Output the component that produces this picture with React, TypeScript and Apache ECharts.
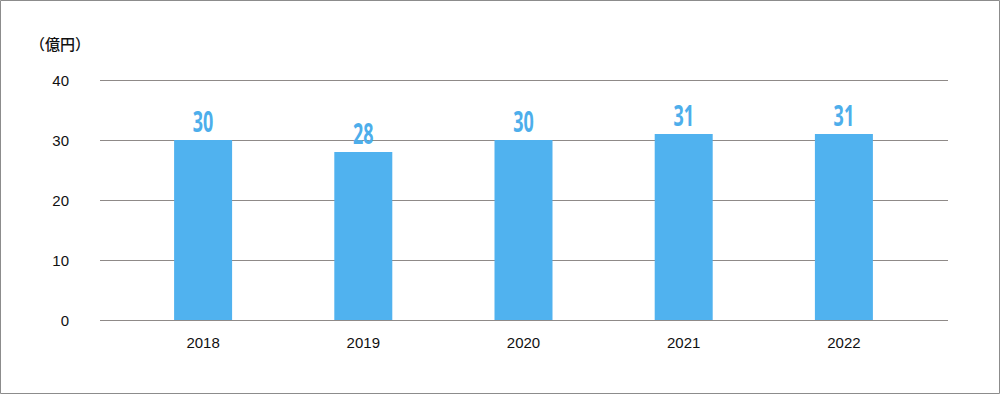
import React, { useEffect, useRef } from "react";
import * as echarts from "echarts";

const years = ["2018", "2019", "2020", "2021", "2022"];
const values = [30, 28, 30, 31, 31];
const unitLabel = "（億円）";
const yMin = 0;
const yMax = 40;
const yStep = 10;

export default function App() {
  const ref = useRef<HTMLDivElement>(null);
  useEffect(() => {
    document.body.style.margin = "0";
    const chart = echarts.init(ref.current!, null, { renderer: "svg" });
    const blue = "#50B2EF";
    const labelBlue = "#4DAEEB";
    chart.setOption({
      animation: false,
      backgroundColor: "#fff",
      graphic: [
        {
          type: "rect",
          shape: { x: 0.5, y: 0.5, width: 999, height: 393 },
          style: { fill: "none", stroke: "#8c8c8c", lineWidth: 1 },
          silent: true,
        },
        {
          type: "text",
          left: 30,
          top: 36,
          style: {
            text: unitLabel,
            fontSize: 15,
            fontWeight: 500,
            fill: "#111",
            fontFamily: "'Noto Sans CJK JP', sans-serif",
          },
        },
      ],
      grid: [
        { left: 100, right: 52, top: 80, height: 240 },
        { left: 123, right: 76, top: 80, height: 240 },
      ],
      xAxis: [
        { type: "value", gridIndex: 0, show: false, min: 0, max: 1 },
        {
          type: "category",
          gridIndex: 1,
          data: years,
          axisLine: { show: false },
          axisTick: { show: false },
          axisLabel: {
            margin: 15,
            fontSize: 15,
            color: "#111",
            fontFamily: "'Liberation Sans', Arial, sans-serif",
          },
        },
      ],
      yAxis: [
        {
          type: "value",
          gridIndex: 0,
          min: yMin,
          max: yMax,
          interval: yStep,
          axisLine: { show: false },
          axisTick: { show: false },
          splitLine: { lineStyle: { color: "#8f8a88", width: 1 } },
          axisLabel: {
            align: "right",
            margin: 31,
            padding: [6, 0, 0, 0],
            fontSize: 15,
            color: "#111",
            fontFamily: "'Liberation Sans', Arial, sans-serif",
          },
        },
        {
          type: "value",
          gridIndex: 1,
          min: yMin,
          max: yMax,
          interval: yStep,
          show: false,
          splitLine: { show: false },
        },
      ],
      series: [
        {
          type: "bar",
          xAxisIndex: 1,
          yAxisIndex: 1,
          data: values,
          barWidth: 58,
          itemStyle: { color: blue },
        },
        {
          type: "custom",
          xAxisIndex: 1,
          yAxisIndex: 1,
          data: values.map((v, i) => [i, v]),
          silent: true,
          z: 5,
          renderItem: (params: any, api: any) => {
            const p = api.coord([api.value(0), api.value(1)]);
            return {
              type: "text",
              x: p[0],
              y: p[1] - 19,
              scaleX: 0.62,
              style: {
                text: String(api.value(1)),
                align: "center",
                verticalAlign: "middle",
                fontSize: 29,
                fontWeight: "bold",
                fill: labelBlue,
                fontFamily: "'Noto Sans', sans-serif",
              },
            };
          },
        },
      ],
    });
    return () => chart.dispose();
  }, []);
  return (
    <div
      ref={ref}
      style={{ position: "absolute", left: 0, top: 0, width: 1000, height: 394 }}
    />
  );
}
